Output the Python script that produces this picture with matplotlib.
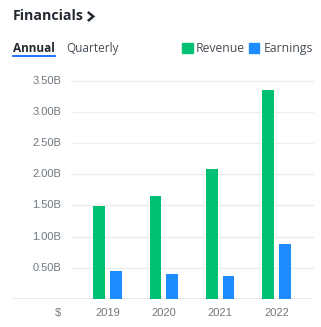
import numpy as np
import matplotlib
matplotlib.use("Agg")
import matplotlib.pyplot as plt
from matplotlib.patches import Rectangle

years = ["2019", "2020", "2021", "2022"]
revenue = [1.49, 1.655, 2.09, 3.35]     # billions
earnings = [0.445, 0.397, 0.365, 0.88]  # billions
yticks = [0.5, 1.0, 1.5, 2.0, 2.5, 3.0, 3.5]
ytick_labels = ["0.50B", "1.00B", "1.50B", "2.00B", "2.50B", "3.00B", "3.50B"]

GREEN = "#00c073"
BLUE = "#1c8cff"
GRAY = "#6e7780"
DARK = "#232a31"
W, H = 321, 327

fig = plt.figure(figsize=(W / 100, H / 100), dpi=100)
fig.patch.set_facecolor("white")

# axes in pixel coords: x 13..313, y(0)=299 .. y(3.5)=80.7
ax_l, ax_r = 13, 313
ax_b, ax_t = 299, 80.7
ax = fig.add_axes([ax_l / W, 1 - ax_b / H, (ax_r - ax_l) / W, (ax_b - ax_t) / H])
ax.set_ylim(0, 3.5)
ax.set_xlim(-1.678, 3.648)
for s in ax.spines.values():
    s.set_visible(False)

x = np.arange(len(years))
bw = 0.207
off = 0.147
ax.bar(x - off, revenue, bw, color=GREEN, zorder=3)
ax.bar(x + off, earnings, bw, color=BLUE, zorder=3)

# gridlines start at the tick labels, baseline goes full width
gx0 = (71 - ax_l) / (ax_r - ax_l)
for v in yticks:
    ax.axhline(v, xmin=gx0, xmax=1, color="#eceef2", lw=1, zorder=1, clip_on=False)
ax.axhline(0, color="#e6e8ec", lw=1.3, zorder=1)

ax.set_yticks([])
ax.set_xticks(list(x) + [-0.879])
ax.set_xticklabels(years + ["$"], fontsize=8, color=GRAY, family="Liberation Sans")
ax.tick_params(axis="x", length=0, pad=6.5)

lab_x = (61 - ax_l) / (ax_r - ax_l)
for v, lab in zip(yticks, ytick_labels):
    ax.text(lab_x, v, lab, transform=ax.get_yaxis_transform(), ha="right", va="center",
            fontsize=8, color=GRAY, family="Liberation Sans")

# header
fig.text(13 / W, 1 - 16 / H, "Financials", fontsize=10.2, fontweight="bold",
         color=DARK, family="Open Sans", va="center", ha="left")
# chevron
fig.add_artist(plt.Line2D([88.8 / W, 93.3 / W, 88.8 / W],
                          [1 - 12.8 / H, 1 - 16.5 / H, 1 - 20.2 / H],
                          color=DARK, lw=1.8, solid_joinstyle="miter"))
fig.text(13 / W, 1 - 48.5 / H, "Annual", fontsize=8.5, fontweight="bold",
         color=DARK, family="Open Sans", va="center", ha="left")
fig.text(66.5 / W, 1 - 48.5 / H, "Quarterly", fontsize=8.5,
         color="#464e56", family="Open Sans", va="center", ha="left")
fig.add_artist(plt.Line2D([13 / W, 55 / W], [1 - 56 / H, 1 - 56 / H], color="#0f69ff", lw=1.3))

# legend
fig.add_artist(Rectangle((182.3 / W, 1 - 53.3 / H), 10.3 / W, 10 / H, color=GREEN, transform=fig.transFigure))
fig.text(196 / W, 1 - 48.5 / H, "Revenue", fontsize=8.8, color="#464e56",
         family="Open Sans", va="center", ha="left")
fig.add_artist(Rectangle((249.3 / W, 1 - 53.3 / H), 10 / W, 10 / H, color=BLUE, transform=fig.transFigure))
fig.text(263.3 / W, 1 - 48.5 / H, "Earnings", fontsize=8.8, color="#464e56",
         family="Open Sans", va="center", ha="left")

plt.savefig("out.png", dpi=100)
